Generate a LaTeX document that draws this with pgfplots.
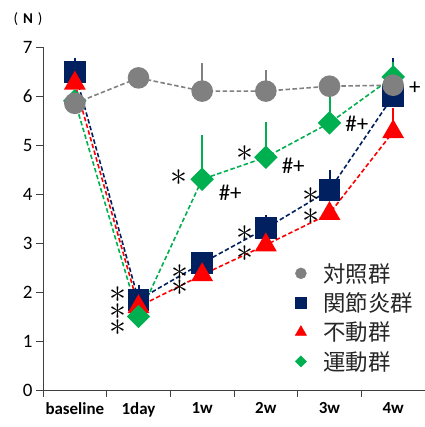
\documentclass[border=0pt]{standalone}
\usepackage{fontspec}
\setmainfont{Carlito}
\newfontfamily\cjk{Noto Sans CJK JP}
\usepackage{graphicx}
\usepackage{pgfplots}
\pgfplotsset{compat=1.18}
\definecolor{cgray}{RGB}{128,128,128}
\definecolor{cnavy}{RGB}{0,32,96}
\definecolor{cred}{RGB}{255,0,0}
\definecolor{cgreen}{RGB}{0,176,80}
\newcommand{\bigast}{\scalebox{3.4}{$\ast$}}
\begin{document}
\begin{tikzpicture}
\useasboundingbox (-43bp,-37bp) rectangle (382bp,390bp);
\begin{axis}[
  at={(0,0)}, anchor=south west,
  scale only axis, width=382bp, height=343bp,
  xmin=-0.5, xmax=5.5, ymin=0, ymax=7,
  axis x line=bottom, axis y line=left,
  axis line style={-, draw=black!75, line width=0.9bp},
  tick style={draw=black!75, line width=0.9bp},
  tick align=outside, major tick length=7bp,
  xtick={-0.5,0.5,...,5.5}, xticklabels={},
  extra x ticks={0,1,2,3,4,5},
  extra x tick labels={baseline,1day,1w,2w,3w,4w},
  extra x tick style={tick style={draw=none}},
  xticklabel style={font=\fontsize{17}{17}\selectfont\bfseries, yshift=-2bp},
  ytick={0,1,...,7},
  /pgf/number format/assume math mode=true,
  yticklabel style={font=\fontsize{19}{19}\selectfont},
  legend style={draw=none, fill=none, at={(0.652,0.382)}, anchor=north west,
    font=\cjk\fontsize{22.5}{22.5}\selectfont, row sep=5bp, column sep=15bp,
    text=black!85},
  legend cell align=left,
  clip=false,
]
\addlegendimage{only marks, mark=*, mark size=5.5bp, cgray}
\addlegendentry{対照群}
\addlegendimage{only marks, mark=square*, mark size=5.5bp, cnavy}
\addlegendentry{関節炎群}
\addlegendimage{only marks, mark=triangle*, mark size=6.5bp, cred}
\addlegendentry{不動群}
\addlegendimage{only marks, mark=square*, mark size=4bp, mark options={rotate=45}, cgreen}
\addlegendentry{運動群}

% arthritis
\addplot[forget plot, cnavy, line width=1.6bp, dash pattern=on 4.5bp off 2.5bp,
  mark=square*, mark size=10bp, mark options={solid},
  error bars/.cd, y dir=plus, y explicit, error mark=none,
  error bar style={solid, line width=2bp, cnavy}]
  table[x=x, y=y, y error=e] {
x y e
0 6.49 0.28
1 1.84 0.30
2 2.59 0.15
3 3.30 0.27
4 4.08 0.40
5 6.00 0.77
};
% immobilized
\addplot[forget plot, cred, line width=1.6bp, dash pattern=on 4.5bp off 2.5bp,
  mark=triangle*, mark size=11bp, mark options={solid},
  error bars/.cd, y dir=plus, y explicit, error mark=none,
  error bar style={solid, line width=2bp, cred}]
  table[x=x, y=y, y error=e] {
x y e
0 6.26 0.10
1 1.70 0.20
2 2.35 0.20
3 2.96 0.20
4 3.60 0.20
5 5.27 0.48
};
% exercise
\addplot[forget plot, cgreen, line width=1.6bp, dash pattern=on 4.5bp off 2.5bp,
  mark=square*, mark size=7.5bp, mark options={solid, rotate=45},
  error bars/.cd, y dir=plus, y explicit, error mark=none,
  error bar style={solid, line width=2bp, cgreen}]
  table[x=x, y=y, y error=e] {
x y e
0 5.90 0.10
1 1.50 0.20
2 4.30 0.90
3 4.75 0.72
4 5.45 0.75
5 6.39 0.30
};
% control
\addplot[forget plot, cgray, line width=1.6bp, dash pattern=on 4.5bp off 2.5bp,
  mark=*, mark size=10bp, mark options={solid},
  error bars/.cd, y dir=plus, y explicit, error mark=none,
  error bar style={solid, line width=2bp, cgray}]
  table[x=x, y=y, y error=e] {
x y e
0 5.85 0.00
1 6.37 0.00
2 6.10 0.57
3 6.10 0.43
4 6.20 0.20
5 6.22 0.10
};

\node[inner sep=0pt] at (axis cs:0.678,1.94) {\bigast};
\node[inner sep=0pt] at (axis cs:0.678,1.59) {\bigast};
\node[inner sep=0pt] at (axis cs:0.678,1.27) {\bigast};
\node[inner sep=0pt] at (axis cs:1.65,2.39) {\bigast};
\node[inner sep=0pt] at (axis cs:1.65,2.08) {\bigast};
\node[inner sep=0pt] at (axis cs:2.67,3.20) {\bigast};
\node[inner sep=0pt] at (axis cs:2.67,2.78) {\bigast};
\node[inner sep=0pt] at (axis cs:3.71,3.96) {\bigast};
\node[inner sep=0pt] at (axis cs:3.71,3.53) {\bigast};
\node[inner sep=0pt] at (axis cs:1.64,4.33) {\bigast};
\node[inner sep=0pt] at (axis cs:2.67,4.83) {\bigast};
\node[font=\fontsize{23}{23}\selectfont] at (axis cs:2.44,4.02) {\#+};
\node[font=\fontsize{23}{23}\selectfont] at (axis cs:3.43,4.57) {\#+};
\node[font=\fontsize{23}{23}\selectfont] at (axis cs:4.43,5.43) {\#+};
\node[font=\fontsize{23}{23}\selectfont] at (axis cs:5.34,6.16) {+};
\end{axis}
\node[font=\fontsize{15}{15}\selectfont] at (-15bp,371bp) {(\,\,\textbf{N}\,\,)};
\end{tikzpicture}
\end{document}
